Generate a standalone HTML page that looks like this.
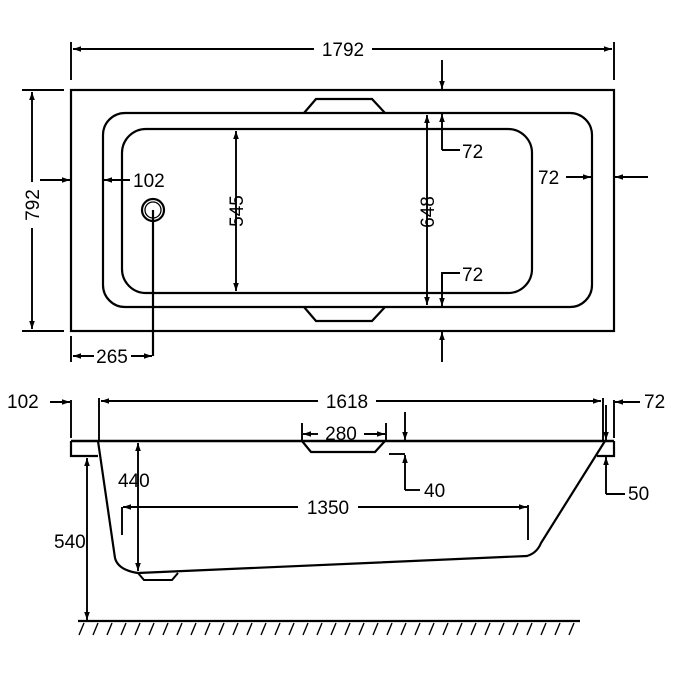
<!DOCTYPE html>
<html><head><meta charset="utf-8"><style>
html,body{margin:0;padding:0;background:#fff}
svg{display:block}
text{font-family:"Liberation Sans",sans-serif;font-size:19px;fill:#000}
</style></head><body>
<svg width="675" height="675" viewBox="0 0 675 675" xmlns="http://www.w3.org/2000/svg">
<defs>
<marker id="a" viewBox="0 0 10 10" refX="10" refY="5" markerWidth="10" markerHeight="8" orient="auto-start-reverse" markerUnits="userSpaceOnUse"><path d="M0,1.5 L10,5 L0,8.5 Z" fill="#000"/></marker>
</defs>
<g stroke="#000" fill="none" stroke-width="1.9">
<rect x="71" y="90" width="543" height="241" stroke-width="2.2"/>
<rect x="103" y="113" width="489" height="194" rx="22" stroke-width="2.2"/>
<rect x="122" y="129" width="410" height="164" rx="24" stroke-width="2.2"/>
<path d="M304,113 L316,99 L372,99 L385,113" stroke-width="2.2"/>
<path d="M304,307 L316,321 L372,321 L385,307" stroke-width="2.2"/>
<circle cx="153" cy="210" r="11" stroke-width="2.2"/>
<circle cx="153" cy="210" r="8" stroke-width="1.3"/>
<line x1="153" y1="210" x2="153" y2="356" stroke-width="2.2"/>
<line x1="71" y1="42" x2="71" y2="80"/>
<line x1="614" y1="42" x2="614" y2="80"/>
<line x1="73" y1="49" x2="314" y2="49" marker-start="url(#a)"/>
<line x1="372" y1="49" x2="612" y2="49" marker-end="url(#a)"/>
<line x1="22" y1="90" x2="64" y2="90"/>
<line x1="22" y1="331" x2="64" y2="331"/>
<line x1="32" y1="92" x2="32" y2="182" marker-start="url(#a)"/>
<line x1="32" y1="228" x2="32" y2="329" marker-end="url(#a)"/>
<line x1="40" y1="180" x2="70" y2="180" marker-end="url(#a)"/>
<line x1="130" y1="180" x2="104" y2="180" marker-end="url(#a)"/>
<line x1="566" y1="177" x2="591" y2="177" marker-end="url(#a)"/>
<line x1="648" y1="177" x2="615" y2="177" marker-end="url(#a)"/>
<line x1="236" y1="131" x2="236" y2="291" marker-start="url(#a)" marker-end="url(#a)"/>
<line x1="427" y1="115" x2="427" y2="305" marker-start="url(#a)" marker-end="url(#a)"/>
<line x1="442" y1="60" x2="442" y2="89" marker-end="url(#a)"/>
<line x1="442" y1="150" x2="442" y2="114" marker-end="url(#a)"/>
<polyline points="442,150 460,150"/>
<polyline points="460,273 442,273 442,294"/>
<line x1="442" y1="274" x2="442" y2="306" marker-end="url(#a)"/>
<line x1="442" y1="362" x2="442" y2="332" marker-end="url(#a)"/>
<line x1="71" y1="336" x2="71" y2="362"/>
<line x1="94" y1="356" x2="73" y2="356" marker-end="url(#a)"/>
<line x1="131" y1="356" x2="152" y2="356" marker-end="url(#a)"/>

<line x1="71" y1="441" x2="614" y2="441" stroke-width="2.4"/>
<polyline points="71,441 71,456 98,456" stroke-width="2.2"/>
<polyline points="614,441 614,456 597,456" stroke-width="2.2"/>
<path d="M98,441 L115,558 Q118,570 138,573 L527,556 Q537,553 541,543 L605,441" stroke-width="2.2"/>
<path d="M138,573 L144,580 L172,580 L178,573" stroke-width="2"/>
<path d="M302,441 L311,452 L375,452 L385,441" stroke-width="2.2"/>
<line x1="99" y1="398" x2="99" y2="440"/>
<line x1="603" y1="398" x2="603" y2="440"/>
<line x1="101" y1="401" x2="318" y2="401" marker-start="url(#a)"/>
<line x1="376" y1="401" x2="601" y2="401" marker-end="url(#a)"/>
<line x1="71" y1="400" x2="71" y2="438"/>
<line x1="50" y1="402" x2="70" y2="402" marker-end="url(#a)"/>
<line x1="614" y1="400" x2="614" y2="438"/>
<line x1="640" y1="402" x2="615" y2="402" marker-end="url(#a)"/>
<line x1="606" y1="405" x2="606" y2="440" marker-end="url(#a)"/>
<line x1="606" y1="494" x2="606" y2="457" marker-end="url(#a)"/>
<line x1="606" y1="494" x2="625" y2="494"/>
<line x1="302" y1="423" x2="302" y2="440"/>
<line x1="386" y1="423" x2="386" y2="440"/>
<line x1="303" y1="434" x2="318" y2="434" marker-start="url(#a)"/>
<line x1="364" y1="434" x2="385" y2="434" marker-end="url(#a)"/>
<line x1="405" y1="412" x2="405" y2="440" marker-end="url(#a)"/>
<line x1="389" y1="454" x2="405" y2="454"/>
<line x1="405" y1="490" x2="405" y2="455" marker-end="url(#a)"/>
<line x1="405" y1="490" x2="420" y2="490"/>
<line x1="138" y1="443" x2="138" y2="571" marker-start="url(#a)" marker-end="url(#a)"/>
<line x1="87" y1="458" x2="87" y2="620" marker-start="url(#a)" marker-end="url(#a)"/>
<line x1="122" y1="507" x2="122" y2="535"/>
<line x1="528" y1="505" x2="528" y2="540"/>
<line x1="123" y1="507" x2="298" y2="507" marker-start="url(#a)"/>
<line x1="358" y1="507" x2="527" y2="507" marker-end="url(#a)"/>
<line x1="78" y1="621" x2="580" y2="621" stroke-width="2.2"/>
</g>
<g stroke="#000" stroke-width="1.4">
<path d="M84,623 l-5,12 M98,623 l-5,12 M112,623 l-5,12 M126,623 l-5,12 M140,623 l-5,12 M154,623 l-5,12 M168,623 l-5,12 M182,623 l-5,12 M196,623 l-5,12 M210,623 l-5,12 M224,623 l-5,12 M238,623 l-5,12 M252,623 l-5,12 M266,623 l-5,12 M280,623 l-5,12 M294,623 l-5,12 M308,623 l-5,12 M322,623 l-5,12 M336,623 l-5,12 M350,623 l-5,12 M364,623 l-5,12 M378,623 l-5,12 M392,623 l-5,12 M406,623 l-5,12 M420,623 l-5,12 M434,623 l-5,12 M448,623 l-5,12 M462,623 l-5,12 M476,623 l-5,12 M490,623 l-5,12 M504,623 l-5,12 M518,623 l-5,12 M532,623 l-5,12 M546,623 l-5,12 M560,623 l-5,12 M574,623 l-5,12"/>
</g>
<text x="343" y="56" text-anchor="middle">1792</text>
<text transform="translate(39,205) rotate(-90)" text-anchor="middle">792</text>
<text x="133" y="187">102</text>
<text x="538" y="184">72</text>
<text transform="translate(243,211) rotate(-90)" text-anchor="middle">545</text>
<text transform="translate(434,212) rotate(-90)" text-anchor="middle">648</text>
<text x="462" y="158">72</text>
<text x="462" y="281">72</text>
<text x="112" y="363" text-anchor="middle">265</text>
<text x="347" y="408" text-anchor="middle">1618</text>
<text x="7" y="408">102</text>
<text x="644" y="408">72</text>
<text x="341" y="440" text-anchor="middle">280</text>
<text x="424" y="497">40</text>
<text x="628" y="500">50</text>
<text x="118" y="487">440</text>
<text x="54" y="548">540</text>
<text x="328" y="514" text-anchor="middle">1350</text>
</svg>
</body></html>
